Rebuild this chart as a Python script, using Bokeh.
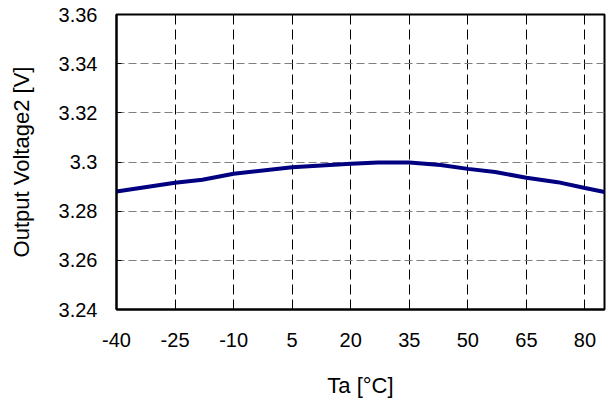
from bokeh.plotting import figure
from bokeh.models import FixedTicker, Range1d
from bokeh.embed import file_html
from bokeh.resources import INLINE

# Data
temperature = [-40, -25, -18, -10, 5, 20, 27, 35, 43, 50, 57, 65, 73, 80, 85]
voltage2 = [3.2880, 3.2916, 3.2928, 3.2952, 3.2979, 3.2993, 3.2998, 3.2998,
            3.2988, 3.2972, 3.2959, 3.2936, 3.2918, 3.2894, 3.2878]

x_ticks = [-40, -25, -10, 5, 20, 35, 50, 65, 80]
x_tick_labels = ["-40", "-25", "-10", "5", "20", "35", "50", "65", "80"]
y_ticks = [3.24, 3.26, 3.28, 3.30, 3.32, 3.34, 3.36]
y_tick_labels = ["3.24", "3.26", "3.28", "3.3", "3.32", "3.34", "3.36"]

FONT = "Liberation Sans"

p = figure(width=606, height=400, output_backend="svg", toolbar_location=None,
           x_range=Range1d(-40, 85), y_range=Range1d(3.24, 3.36),
           min_border_left=116, min_border_right=2, min_border_top=14,
           min_border_bottom=88)

p.line(temperature, voltage2, line_color="#000080", line_width=4)

p.outline_line_color = "black"
p.outline_line_width = 2
p.outline_line_alpha = 1

p.xaxis.ticker = FixedTicker(ticks=x_ticks)
p.yaxis.ticker = FixedTicker(ticks=y_ticks)
p.xaxis.major_label_overrides = {t: l for t, l in zip(x_ticks, x_tick_labels)}
p.yaxis.major_label_overrides = {t: l for t, l in zip(y_ticks, y_tick_labels)}

for ax in (p.xaxis, p.yaxis):
    ax.axis_line_color = "black"
    ax.axis_line_width = 2
    ax.major_tick_in = 5
    ax.major_tick_out = 0
    ax.minor_tick_line_color = None
    ax.major_tick_line_color = "black"
    ax.major_label_text_font = FONT
    ax.major_label_text_font_size = "20px"
    ax.major_label_text_color = "black"
    ax.axis_label_text_font = FONT
    ax.axis_label_text_font_size = "22px"
    ax.axis_label_text_font_style = "normal"
    ax.axis_label_text_color = "black"

p.xaxis.axis_label = "Ta [°C]"
p.yaxis.axis_label = "Output Voltage2 [V]"
p.xaxis.major_label_standoff = 23
p.yaxis.major_label_standoff = 19
p.xaxis.axis_label_standoff = 23
p.yaxis.axis_label_standoff = 22

p.xgrid.grid_line_color = "black"
p.xgrid.grid_line_dash = "10 5"
p.xgrid.grid_line_width = 1
p.ygrid.grid_line_color = "#808080"
p.ygrid.grid_line_dash = "8 4"
p.ygrid.grid_line_width = 1

p.background_fill_color = "white"
p.border_fill_color = "white"

open("out.html", "w").write(file_html(p, INLINE))
